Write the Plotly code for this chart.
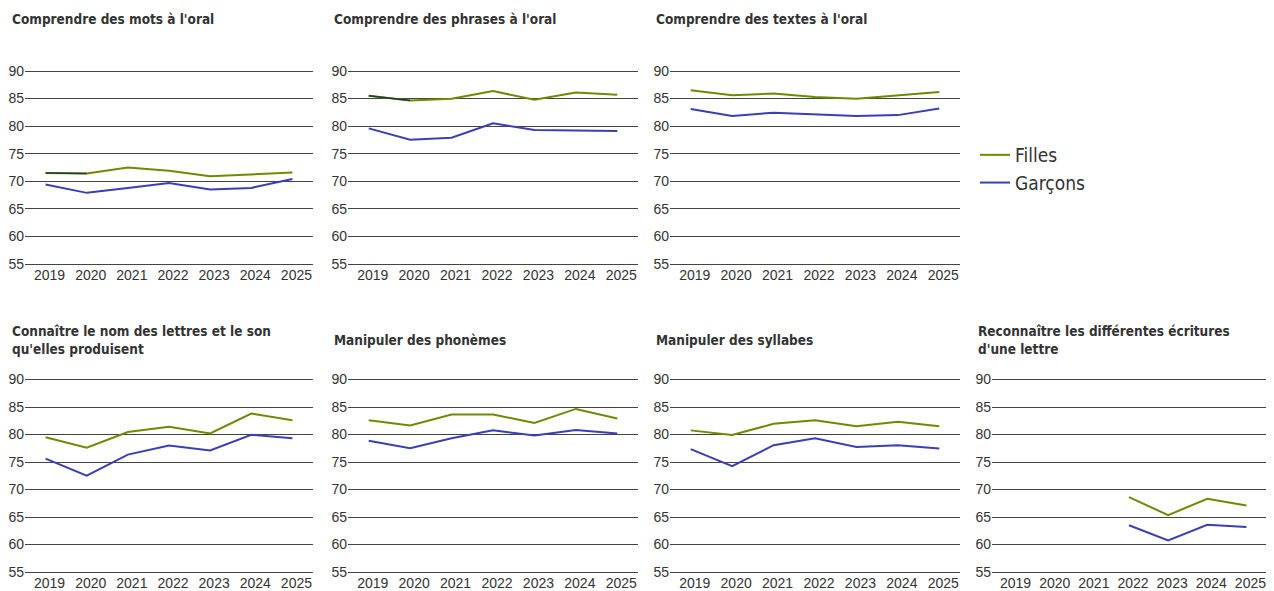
import plotly.graph_objects as go

years = ["2019", "2020", "2021", "2022", "2023", "2024", "2025"]

titles = [
    "Comprendre des mots à l'oral",
    "Comprendre des phrases à l'oral",
    "Comprendre des textes à l'oral",
    "Connaître le nom des lettres et le son<br>qu'elles produisent",
    "Manipuler des phonèmes",
    "Manipuler des syllabes",
    "Reconnaître les différentes écritures<br>d'une lettre",
]

filles_mots = [71.5, 71.4, 72.5, 71.9, 70.9, 71.2, 71.6]
garcons_mots = [69.4, 67.9, 68.8, 69.7, 68.5, 68.8, 70.4]

filles_phrases = [85.5, 84.65, 84.95, 86.35, 84.8, 86.1, 85.7]
garcons_phrases = [79.6, 77.55, 77.9, 80.5, 79.3, 79.25, 79.1]

filles_textes = [86.5, 85.6, 85.9, 85.3, 84.95, 85.55, 86.2]
garcons_textes = [83.1, 81.85, 82.45, 82.15, 81.85, 82.0, 83.2]

filles_lettres = [79.5, 77.6, 80.45, 81.4, 80.2, 83.8, 82.6]
garcons_lettres = [75.6, 72.5, 76.35, 78.0, 77.1, 79.95, 79.3]

filles_phonemes = [82.6, 81.65, 83.65, 83.65, 82.1, 84.65, 82.9]
garcons_phonemes = [78.85, 77.5, 79.3, 80.75, 79.8, 80.8, 80.2]

filles_syllabes = [80.75, 79.9, 81.95, 82.6, 81.5, 82.3, 81.5]
garcons_syllabes = [77.35, 74.25, 78.05, 79.3, 77.75, 78.05, 77.45]

filles_ecritures = [None, None, None, 68.6, 65.35, 68.3, 67.1]
garcons_ecritures = [None, None, None, 63.5, 60.75, 63.6, 63.2]

filles = [filles_mots, filles_phrases, filles_textes, filles_lettres,
          filles_phonemes, filles_syllabes, filles_ecritures]
garcons = [garcons_mots, garcons_phrases, garcons_textes, garcons_lettres,
           garcons_phonemes, garcons_syllabes, garcons_ecritures]
# panels whose first Filles segment (2019-2020) is drawn darker in the source
dark_first_segment = [True, True, False, False, False, False, False]

GREEN = "#6e8b00"
BLUE = "#3a3fb5"
DARK = "#1f3a36"
W, H = 1274, 591

Y_MIN, Y_MAX = 55, 90
PAD_TOP, PAD_BOT = 0.5, 0.25
# panel placement (pixels): x0, x1 of plot area ; row pixel of 90 and 55
cols = [(25, 313), (348, 638), (670, 960), (992, 1266)]
rows = [(71, 264), (379.5, 572)]
panel_pos = [(0, 0), (0, 1), (0, 2), (1, 0), (1, 1), (1, 2), (1, 3)]
title_x = [10, 332, 654, 976]

fig = go.Figure()
tick_font = dict(family="Liberation Sans, Arial, sans-serif", size=14, color="#333333")
title_font = dict(family="DejaVu Sans Condensed, Liberation Sans Narrow, sans-serif",
                  size=13.5, color="#333333")

annotations = []
for i, (r, c) in enumerate(panel_pos):
    n = i + 1
    xa = "x" if n == 1 else f"x{n}"
    ya = "y" if n == 1 else f"y{n}"
    x0, x1 = cols[c]
    top, bot = rows[r]
    ppu = (bot - top) / (Y_MAX - Y_MIN)
    top_px, bot_px = top - PAD_TOP * ppu, bot + PAD_BOT * ppu
    fig.add_trace(go.Scatter(
        x=years, y=filles[i], mode="lines", name="Filles",
        line=dict(color=GREEN, width=2), xaxis=xa, yaxis=ya,
        showlegend=(i == 0), legendgroup="f", hoverinfo="x+y+name"))
    if dark_first_segment[i]:
        fig.add_trace(go.Scatter(
            x=years[:2], y=filles[i][:2], mode="lines", name="Filles",
            line=dict(color=DARK, width=1.5), xaxis=xa, yaxis=ya,
            showlegend=False, legendgroup="f"))
    fig.add_trace(go.Scatter(
        x=years, y=garcons[i], mode="lines", name="Garçons",
        line=dict(color=BLUE, width=2), xaxis=xa, yaxis=ya,
        showlegend=(i == 0), legendgroup="g", hoverinfo="x+y+name"))

    fig.update_layout(**{
        ("xaxis" if n == 1 else f"xaxis{n}"): dict(
            domain=[x0 / W, x1 / W], anchor=ya, type="category",
            categoryorder="array", categoryarray=years, range=[-0.5, 6.5],
            showgrid=False, zeroline=False, showline=False, ticks="",
            ticklabelshift=4,
            tickfont=tick_font, fixedrange=True, automargin=False),
        ("yaxis" if n == 1 else f"yaxis{n}"): dict(
            domain=[1 - bot_px / H, 1 - top_px / H], anchor=xa,
            range=[Y_MIN - PAD_BOT, Y_MAX + PAD_TOP],
            dtick=5, tick0=55, showgrid=True, gridcolor="#444444", gridwidth=1,
            zeroline=False, showline=False, ticks="", ticklabelstandoff=0,
            tickfont=tick_font, fixedrange=True, automargin=False),
    })
    ty = 1 - 19 / H if r == 0 else 1 - 340 / H
    annotations.append(dict(
        text=f"<b>{titles[i]}</b>", x=title_x[c] / W, y=ty, xref="paper", yref="paper",
        xanchor="left", yanchor="middle", align="left", showarrow=False,
        font=title_font))

fig.update_layout(
    width=W, height=H,
    margin=dict(l=0, r=0, t=0, b=0, autoexpand=False),
    paper_bgcolor="white", plot_bgcolor="white",
    annotations=annotations,
    showlegend=True,
    legend=dict(x=975 / W, y=1 - 136 / H, xanchor="left", yanchor="top",
                font=dict(family="DejaVu Sans Condensed, Liberation Sans Narrow, sans-serif",
                          size=19, color="#333333"),
                bgcolor="rgba(0,0,0,0)", tracegroupgap=0, itemwidth=30),
)

fig.write_html("out.html", config={"displayModeBar": False},
               post_script="document.body.style.margin='0';")
